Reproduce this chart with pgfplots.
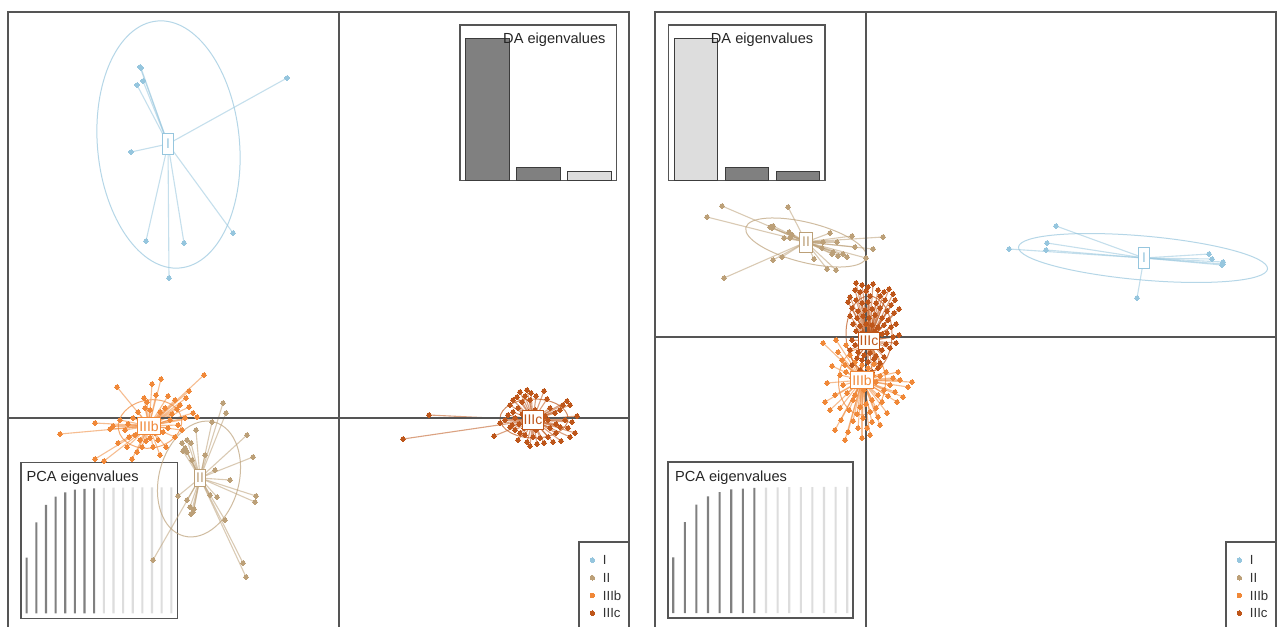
\documentclass[border=0pt]{standalone}
\usepackage{pgfplots}
\pgfplotsset{compat=1.18}
\usepackage{pgfplotstable}
\usepackage{fontspec}
\setmainfont{Liberation Sans}

\definecolor{colI}{RGB}{150,198,222}
\definecolor{colII}{RGB}{188,160,120}
\definecolor{colIIIb}{RGB}{240,136,56}
\definecolor{colIIIc}{RGB}{190,86,26}
\definecolor{frame}{RGB}{85,85,85}
\definecolor{eigdark}{RGB}{128,128,128}
\definecolor{eiglight}{RGB}{221,221,221}
\definecolor{bardraw}{RGB}{60,60,60}
\definecolor{legtext}{RGB}{50,50,50}

\newcommand\labfont{\fontsize{7}{8}\selectfont}
\newcommand\legfont{\fontsize{6.6}{7.5}\selectfont}
\newcommand\insfont{\fontsize{7.3}{8.5}\selectfont}

\tikzset{
  zero/.style={draw=frame, line width=0.75pt},
  ell/.style={draw=#1, draw opacity=0.7, line width=0.5pt},
}

\pgfplotsset{
  panel/.style={scale only axis, anchor=north west, width=310.5pt, height=310pt,
    xtick=\empty, ytick=\empty, axis line style={draw=frame, line width=0.75pt}},
  inset/.style={scale only axis, anchor=north west, xtick=\empty, ytick=\empty,
    axis line style={draw=frame, line width=0.55pt}},
  % segments from a group centre to each of its individuals
  star/.style n args={3}{draw=#1, draw opacity=0.55, line width=0.55pt, mark=none,
    quiver={u=#2-\thisrow{x}, v=#3-\thisrow{y}}},
  dots/.style={only marks, color=#1, mark=*, mark size=1.15pt, mark options={draw=#1, fill=#1, line width=0pt}},
  grouplabel/.style 2 args={only marks, mark=none, point meta=explicit symbolic,
    nodes near coords, nodes near coords align={center},
    every node near coord/.append style={draw=#1, fill=white, text=#1, line width=0.5pt,
      inner sep=0.4pt, font=\labfont, #2}},
  legentry/.style={only marks, color=#1, mark=*, mark size=1.15pt, mark options={draw=#1, fill=#1, line width=0pt},
    point meta=explicit symbolic, nodes near coords, nodes near coords align={west},
    every node near coord/.append style={text=legtext, font=\legfont, inner sep=0pt, xshift=5.3pt}},
  daeig/.style={ybar, bar width=0.85, bar shift=0pt, draw=bardraw, line width=0.5pt},
  pcaeig/.style={ybar, bar width=1.05pt, bar shift=0pt, draw=none},
}

% ---------------- discriminant scores, LD1 vs LD2 ----------------
\pgfplotstableread{
x y
-19.9 35.1
-19.8 35.0
-19.6 33.7
-20.2 33.3
-5.2 34.0
-20.8 26.6
-19.3 17.7
-15.5 17.5
-10.6 18.5
-17.0 14.0
}\tabLI

\pgfplotstableread{
x y
-11.6 1.5
-11.3 0.5
-12.7 -0.4
-14.3 -1.2
-9.2 -1.7
-15.2 -2.2
-15.7 -2.5
-15.4 -3.0
-15.2 -3.4
-14.8 -2.5
-15.6 -3.3
-8.6 -3.9
-8.3 -7.8
-8.4 -8.4
-12.2 -7.9
-12.9 -7.7
-15.2 -8.2
-16.1 -7.8
-14.6 -9.4
-14.8 -9.6
-14.5 -9.1
-14.9 -8.9
-18.6 -14.2
-9.6 -14.5
-9.3 -15.9
-12.4 -5.2
-10.9 -6.2
-13.4 -3.7
-14.7 -4.2
-11.4 -10.2
}\tabLII

\pgfplotstableread{
x y
-13.5 4.3
-15.0 2.7
-17.8 3.9
-18.7 3.4
-22.2 3.1
-18.3 2.3
-19.5 2.0
-24.4 -0.5
-27.9 -1.6
-22.9 -1.1
-21.0 -1.9
-21.2 -2.9
-24.4 -4.1
-23.5 -4.3
-20.7 -4.1
-18.6 -2.9
-17.3 -2.9
-16.4 -1.9
-15.9 1.3
-16.2 0.9
-15.0 1.1
-14.6 0.5
-14.2 0.1
-15.4 0.0
-16.9 -0.2
-17.1 -1.0
-17.6 -1.4
-18.1 -2.2
-19.3 -2.3
-19.9 -2.2
-20.4 -1.7
-21.4 -1.2
-21.1 -0.6
-20.6 0.0
-20.1 0.6
-19.4 1.0
-18.9 0.8
-17.9 0.6
-17.4 1.0
-16.7 0.4
-16.1 -0.7
-15.7 -1.2
-19.9 -1.0
-18.4 -1.5
-18.9 -2.0
-21.9 -0.2
-22.6 -0.8
-19.2 1.6
-16.4 1.8
-15.3 2.0
-17.1 2.2
-19.7 -2.9
-20.2 -3.4
-17.9 -3.7
-22.1 -2.5
}\tabLIIIb

\pgfplotstableread{
x y
9.0 0.3
6.4 -2.1
15.5 -1.8
20.5 2.7
20.8 1.9
18.1 2.6
18.8 2.8
17.8 2.1
18.3 1.6
19.2 2.5
19.7 2.2
17.4 1.8
18.6 2.2
17.1 1.3
19.1 1.8
22.8 1.7
23.1 1.3
22.4 1.3
23.8 0.2
22.1 0.8
21.6 0.5
22.6 -0.2
23.3 -0.4
21.7 -0.6
22.1 -0.9
21.1 1.0
22.9 -1.0
23.6 -1.5
23.1 -1.9
22.2 -2.3
21.4 -2.4
20.5 -2.5
20.9 -1.9
21.7 -1.5
20.1 -2.0
19.4 -1.9
18.6 -1.7
18.1 -1.5
17.6 -1.2
17.3 -0.7
17.9 -2.2
18.8 -2.4
19.8 -2.6
19.1 -2.8
16.6 -0.2
16.9 0.3
17.4 0.6
17.6 0.0
17.1 -0.9
16.1 -0.5
17.9 1.0
18.3 0.4
18.0 -0.6
18.9 0.6
19.6 0.8
20.1 0.4
20.6 0.2
19.9 -0.7
19.1 -0.7
18.8 -0.2
20.3 -0.3
20.9 -0.2
21.1 -1.0
19.7 -1.2
18.5 -1.0
}\tabLIIIc

% ---------------- discriminant scores, LD2 vs LD3 ----------------
\pgfplotstableread{
x y
19.0 11.1
18.1 9.4
14.3 8.8
18.0 8.7
27.1 3.9
34.3 8.3
34.6 7.8
35.7 7.5
35.6 7.2
35.7 7.3
}\tabRI

\pgfplotstableread{
x y
-14.4 13.1
-15.9 12.0
-7.8 13.0
-9.6 11.0
-9.3 11.1
-9.4 10.9
-8.2 9.9
-7.7 10.5
-7.4 10.2
-7.6 9.9
-14.2 5.9
-9.3 7.7
-8.4 8.0
-5.2 7.8
-3.9 6.8
-3.0 6.7
-3.6 10.4
-1.4 10.1
1.7 10.0
-1.1 9.0
0.7 8.8
-3.3 8.5
-2.8 8.1
-2.3 8.3
-1.9 8.0
-3.4 8.3
0.0 7.9
-4.3 9.5
-2.9 9.5
-4.4 8.9
}\tabRII

\pgfplotstableread{
x y
-4.3 -0.6
-3.9 -4.6
-4.1 -6.5
-3.4 -2.9
4.6 -4.5
4.2 -5.0
3.7 -6.0
3.1 -6.5
2.1 -7.6
1.2 -8.0
0.1 -9.1
-1.8 -9.5
-3.1 -9.3
-0.4 -10.1
-1.3 -8.4
-2.6 -7.1
-3.1 -5.8
2.4 -4.8
2.7 -4.1
3.2 -3.5
2.0 -3.5
1.4 -2.9
-2.8 -1.5
-2.4 -2.3
-2.0 -0.8
-1.6 -1.8
-1.1 -2.5
-0.4 -2.8
0.2 -3.1
0.8 -2.7
1.4 -3.9
1.8 -5.3
1.2 -5.8
0.6 -6.3
0.0 -6.7
-0.6 -7.0
-1.3 -6.3
-1.9 -5.6
-2.3 -4.8
-2.6 -3.8
-2.0 -3.5
-1.4 -4.1
-0.8 -4.7
-0.2 -5.3
0.4 -4.9
1.0 -4.5
-1.7 -7.3
-0.9 -7.7
-0.3 -8.1
0.4 -7.5
1.0 -7.1
1.6 -6.5
2.2 -5.9
-2.5 -8.3
-0.8 -9.1
0.6 -8.5
-2.1 -2.8
-3.0 -0.3
-3.6 -7.3
2.9 -5.5
3.4 -4.3
-2.1 -10.3
0.4 -9.8
1.4 -8.8
-1.1 -5.8
-0.5 -3.6
0.7 -3.8
}\tabRIIIb

\pgfplotstableread{
x y
-1.0 5.4
-0.4 5.2
0.2 5.0
0.7 5.3
-1.1 4.7
-0.6 4.5
0.0 4.6
1.2 4.7
1.8 4.5
2.3 4.8
2.7 4.3
1.4 4.1
0.4 4.1
-1.6 4.0
-1.8 3.5
-1.0 3.7
-0.4 3.4
0.2 3.5
1.0 3.4
1.9 3.7
2.5 3.2
2.9 3.7
-1.4 2.9
-0.8 2.6
-0.1 2.7
0.6 2.8
1.4 2.9
2.1 2.6
2.8 2.4
3.3 2.8
-1.6 2.1
-0.9 1.9
-0.3 2.1
0.3 1.9
0.9 2.2
1.6 1.9
2.2 1.7
-1.3 1.3
-0.6 1.1
0.0 1.3
0.6 1.2
1.2 1.0
1.8 1.2
2.5 1.0
3.0 1.3
-1.0 0.6
-0.4 0.4
0.9 0.6
1.6 0.3
2.1 0.4
2.7 0.0
3.3 0.2
-1.4 -0.3
-1.1 -0.8
-1.6 -1.3
-0.8 -1.5
-0.2 -1.8
0.4 -1.6
1.0 -1.9
1.6 -1.3
2.0 -0.7
2.4 -1.1
3.0 -0.6
-0.4 -2.3
0.2 -2.5
0.8 -2.2
1.4 -2.6
-0.9 -2.1
1.8 -2.0
-0.6 -3.3
0.6 -3.5
-0.1 -4.1
1.2 -3.1
-1.4 -2.8
}\tabRIIIc

\begin{document}
\begin{tikzpicture}
\path[use as bounding box] (0pt,0pt) rectangle (641.5pt,-313pt);
\fill[white] (0pt,0pt) rectangle (641.5pt,-313pt);
\clip (0pt,0pt) rectangle (641.5pt,-313pt);

% ===================== left panel =====================
\begin{axis}[inset, at={(10.5pt,-231.15pt)}, width=78.15pt, height=78pt,
  xmin=0.41, xmax=16.62, ymin=-3.97, ymax=119.8]
\addplot[pcaeig, fill=eigdark] coordinates {(1,44.1) (2,72.2) (3,86.0) (4,92.5) (5,96.0) (6,98.1) (7,98.7) (8,99.2)};
\addplot[pcaeig, fill=eiglight] coordinates {(9,99.5) (10,99.7) (11,99.8) (12,99.9) (13,99.95) (14,100) (15,100) (16,100)};
\node[anchor=base west, font=\insfont, text=black!85, inner sep=0pt, xshift=2.6pt, yshift=-9.7pt] at (rel axis cs:0,1) {PCA eigenvalues};
\end{axis}

\begin{axis}[panel, at={(4pt,-6pt)}, xmin=-33.1, xmax=29.0, ymin=-21.4, ymax=40.6]
\addplot[star={colI}{-17.1}{27.4}] table {\tabLI};
\addplot[dots=colI] table {\tabLI};
\addplot[star={colII}{-13.9}{-6.0}] table {\tabLII};
\addplot[dots=colII] table {\tabLII};
\addplot[star={colIIIb}{-19.0}{-0.8}] table {\tabLIIIb};
\addplot[dots=colIIIb] table {\tabLIIIb};
\addplot[star={colIIIc}{19.4}{-0.2}] table {\tabLIIIc};
\addplot[dots=colIIIc] table {\tabLIIIc};
\draw[ell=colI, rotate around={5.3:(axis cs:-17.05,27.35)}] (axis cs:-17.05,27.35) ellipse [x radius=7.1, y radius=12.4];
\draw[ell=colII, rotate around={-15:(axis cs:-14.0,-6.1)}] (axis cs:-14.0,-6.1) ellipse [x radius=4.0, y radius=5.9];
\draw[ell=colIIIb, rotate around={10:(axis cs:-18.9,-0.6)}] (axis cs:-18.9,-0.6) ellipse [x radius=3.2, y radius=2.4];
\draw[ell=colIIIc] (axis cs:19.5,-0.05) ellipse [x radius=3.4, y radius=1.95];
\draw[zero] (axis cs:0,-21.4) -- (axis cs:0,40.6);
\draw[zero] (axis cs:-33.1,0) -- (axis cs:29.0,0);
\addplot[grouplabel={colI}{minimum width=5.85pt, minimum height=10.35pt}] coordinates {(-17.1,27.4) [I]};
\addplot[grouplabel={colII}{minimum width=5.7pt, minimum height=8.3pt}] coordinates {(-13.9,-6.0) [II]};
\addplot[grouplabel={colIIIb}{minimum width=11.7pt, minimum height=8.2pt}] coordinates {(-19.0,-0.8) [IIIb]};
\addplot[grouplabel={colIIIc}{minimum width=10.5pt, minimum height=9.5pt}] coordinates {(19.4,-0.2) [IIIc]};
\end{axis}

\begin{axis}[inset, at={(230pt,-12.5pt)}, width=78.35pt, height=77.85pt,
  xmin=0.463, xmax=3.535, ymin=0, ymax=934]
\addplot[daeig, fill=eigdark] coordinates {(1,850) (2,78)};
\addplot[daeig, fill=eiglight] coordinates {(3,54)};
\node[anchor=base east, font=\insfont, text=black!85, inner sep=0pt, xshift=-5.4pt, yshift=-9.15pt] at (rel axis cs:1,1) {DA eigenvalues};
\end{axis}

\begin{axis}[inset, at={(289.5pt,-271pt)}, width=25pt, height=45pt,
  xmin=0, xmax=50, ymin=0, ymax=90, y dir=reverse, clip=false]
\addplot[legentry=colI] coordinates {(13.3,18) [I]};
\addplot[legentry=colII] coordinates {(13.3,35.7) [II]};
\addplot[legentry=colIIIb] coordinates {(13.3,53.3) [IIIb]};
\addplot[legentry=colIIIc] coordinates {(13.3,71) [IIIc]};
\end{axis}

% ===================== right panel =====================
\begin{axis}[inset, at={(334pt,-231pt)}, width=92.5pt, height=78pt,
  xmin=0.55, xmax=16.5, ymin=-3.97, ymax=119.8]
\addplot[pcaeig, fill=eigdark] coordinates {(1,44.1) (2,72.2) (3,86.0) (4,92.5) (5,96.0) (6,98.1) (7,98.7) (8,99.2)};
\addplot[pcaeig, fill=eiglight] coordinates {(9,99.5) (10,99.7) (11,99.8) (12,99.9) (13,99.95) (14,100) (15,100) (16,100)};
\node[anchor=base west, font=\insfont, text=black!85, inner sep=0pt, xshift=3.3pt, yshift=-9.7pt] at (rel axis cs:0,1) {PCA eigenvalues};
\end{axis}

\begin{axis}[panel, at={(327.5pt,-6pt)}, xmin=-21.1, xmax=41.0, ymin=-29.5, ymax=32.5]
\addplot[star={colI}{27.8}{7.9}] table {\tabRI};
\addplot[dots=colI] table {\tabRI};
\addplot[star={colII}{-6.0}{9.5}] table {\tabRII};
\addplot[dots=colII] table {\tabRII};
\addplot[star={colIIIb}{-0.4}{-4.3}] table {\tabRIIIb};
\addplot[dots=colIIIb] table {\tabRIIIb};
\addplot[star={colIIIc}{0.3}{-0.4}] table {\tabRIIIc};
\addplot[dots=colIIIc] table {\tabRIIIc};
\draw[ell=colI, rotate around={-5:(axis cs:27.7,7.9)}] (axis cs:27.7,7.9) ellipse [x radius=12.5, y radius=2.2];
\draw[ell=colII, rotate around={-14:(axis cs:-6.0,9.45)}] (axis cs:-6.0,9.45) ellipse [x radius=6.2, y radius=2.0];
\draw[ell=colIIIb] (axis cs:-0.4,-4.45) ellipse [x radius=2.35, y radius=3.35];
\draw[ell=colIIIc] (axis cs:0.3,0.3) ellipse [x radius=2.3, y radius=3.8];
\draw[zero] (axis cs:0,-29.5) -- (axis cs:0,32.5);
\draw[zero] (axis cs:-21.1,0) -- (axis cs:41.0,0);
\addplot[grouplabel={colI}{minimum width=5.2pt, minimum height=10.3pt}] coordinates {(27.8,7.9) [I]};
\addplot[grouplabel={colII}{minimum width=6.3pt, minimum height=10pt}] coordinates {(-6.0,9.5) [II]};
\addplot[grouplabel={colIIIb}{minimum width=11.7pt, minimum height=8.3pt}] coordinates {(-0.4,-4.3) [IIIb]};
\addplot[grouplabel={colIIIc}{minimum width=10.5pt, minimum height=8.8pt}] coordinates {(0.3,-0.4) [IIIc]};
\end{axis}

\begin{axis}[inset, at={(334.15pt,-12.5pt)}, width=78.35pt, height=77.85pt,
  xmin=0.463, xmax=3.535, ymin=0, ymax=934]
\addplot[daeig, fill=eiglight] coordinates {(1,850)};
\addplot[daeig, fill=eigdark] coordinates {(2,78) (3,54)};
\node[anchor=base east, font=\insfont, text=black!85, inner sep=0pt, xshift=-5.7pt, yshift=-9.15pt] at (rel axis cs:1,1) {DA eigenvalues};
\end{axis}

\begin{axis}[inset, at={(613pt,-271pt)}, width=25pt, height=45pt,
  xmin=0, xmax=50, ymin=0, ymax=90, y dir=reverse, clip=false]
\addplot[legentry=colI] coordinates {(13.3,18) [I]};
\addplot[legentry=colII] coordinates {(13.3,35.7) [II]};
\addplot[legentry=colIIIb] coordinates {(13.3,53.3) [IIIb]};
\addplot[legentry=colIIIc] coordinates {(13.3,71) [IIIc]};
\end{axis}
\end{tikzpicture}
\end{document}
